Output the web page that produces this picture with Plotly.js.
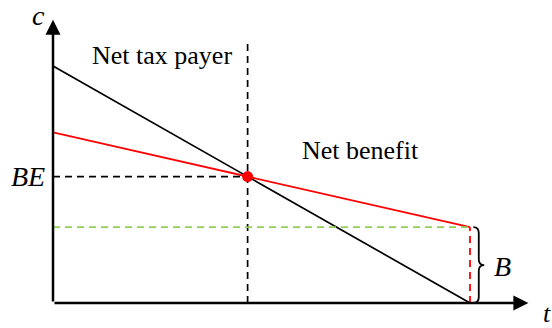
<!DOCTYPE html>
<html><head><meta charset="utf-8">
<script src="https://cdn.plot.ly/plotly-3.0.1.min.js"></script>
<style>html,body{margin:0;padding:0;background:#fff}</style>
</head><body><div id="chart" style="width:552px;height:328px"></div>
<script>
// Data (conceptual model)
const tPoints = [0, 10];          // time axis endpoints
const costLine = [10, 0];         // black line: net cost c over t
const benefitLine = [7.2, 3.2];   // red line
const axisEndT = 11.4;            // x-axis arrow end
const axisEndC = 11.95;           // y-axis arrow end
const dividerTop = 11.0;          // top of vertical dashed divider
const labels = {c: 'c', t: 't', be: 'BE', b: 'B', left: 'Net tax payer', right: 'Net benefit'};

// intersection (break-even)
const s1 = (costLine[1]-costLine[0])/(tPoints[1]-tPoints[0]);
const s2 = (benefitLine[1]-benefitLine[0])/(tPoints[1]-tPoints[0]);
const tBE = (benefitLine[0]-costLine[0])/(s1-s2);
const cBE = costLine[0] + s1*tBE;
const tEnd = tPoints[1];
const bTop = benefitLine[1];

const serif = 'Liberation Serif, Times New Roman, serif';

const traces = [
  {x: tPoints, y: costLine, mode: 'lines', line: {color: '#000', width: 1.7}},
  {x: tPoints, y: benefitLine, mode: 'lines', line: {color: '#ff0000', width: 1.8}},
  {x: [0, tBE], y: [cBE, cBE], mode: 'lines', line: {color: '#000', width: 1.7, dash: '7px,5px'}},
  {x: [tBE, tBE], y: [0, dividerTop], mode: 'lines', line: {color: '#000', width: 1.7, dash: '7px,5px'}},
  {x: [0, tEnd], y: [bTop, bTop], mode: 'lines', line: {color: '#92d050', width: 1.6, dash: '7px,5px'}},
  {x: [tEnd, tEnd], y: [0, bTop], mode: 'lines', line: {color: '#ff0000', width: 1.8, dash: '7px,5px'}},
  {x: [tBE], y: [cBE], mode: 'markers', marker: {color: '#ff0000', size: 11}}
];

// brace path
const x0 = tEnd + 0.08, x1 = tEnd + 0.21, x2 = tEnd + 0.34, r = 0.25;
const mid = bTop/2;
const brace = `M${x0},${bTop} Q${x1},${bTop} ${x1},${bTop-r} L${x1},${mid+r} Q${x1},${mid} ${x2},${mid} Q${x1},${mid} ${x1},${mid-r} L${x1},${r} Q${x1},0 ${x0},0`;

const font = (s) => ({family: serif, size: s, color: '#000'});
const ann = (x, y, text, opts) => Object.assign({x, y, text, xref: 'x', yref: 'y', showarrow: false,
  xanchor: 'center', yanchor: 'middle', font: font(26)}, opts || {});

const layout = {
  width: 552, height: 328,
  margin: {l: 53, r: 0, t: 0, b: 25},
  paper_bgcolor: '#fff', plot_bgcolor: '#fff',
  showlegend: false,
  xaxis: {range: [0, 11.966], visible: false, fixedrange: true},
  yaxis: {range: [0, 12.785], visible: false, fixedrange: true},
  shapes: [
    {type: 'path', path: brace, xref: 'x', yref: 'y', line: {color: '#000', width: 1.8}}
  ],
  annotations: [
    {x: axisEndT, y: 0, ax: 0, ay: 0, axref: 'x', ayref: 'y', xref: 'x', yref: 'y', text: '',
     showarrow: true, arrowhead: 2, arrowsize: 1.2, arrowwidth: 2.5, arrowcolor: '#000', standoff: 0},
    {x: 0, y: axisEndC, ax: 0, ay: 0, axref: 'x', ayref: 'y', xref: 'x', yref: 'y', text: '',
     showarrow: true, arrowhead: 2, arrowsize: 1.2, arrowwidth: 2.5, arrowcolor: '#000', standoff: 0},
    ann(-0.03, 0.95, '<i>' + labels.c + '</i>', {xref: 'paper', yref: 'paper', font: font(28)}),
    ann(0.99, -0.034, '<i>' + labels.t + '</i>', {xref: 'paper', yref: 'paper', font: font(26)}),
    ann(-0.012, cBE, '<i>' + labels.be + '</i>', {xref: 'paper', xanchor: 'right', font: font(28)}),
    ann(x2 + 0.18, mid - 0.05, '<i>' + labels.b + '</i>', {xanchor: 'left', font: font(28)}),
    ann(2.61, 10.45, labels.left),
    ann(7.37, 6.45, labels.right)
  ]
};

Plotly.newPlot('chart', traces, layout, {staticPlot: true, displayModeBar: false});
</script></body></html>
